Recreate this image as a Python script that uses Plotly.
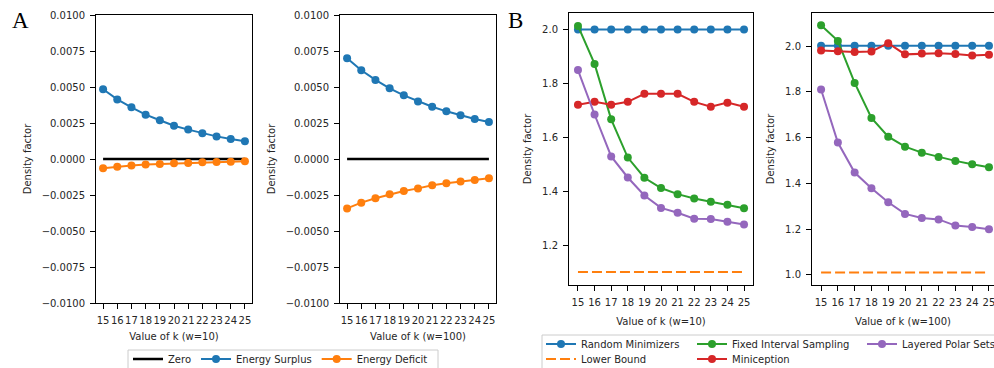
import plotly.graph_objects as go

W, H = 994, 368

k_values = [15, 16, 17, 18, 19, 20, 21, 22, 23, 24, 25]

# Panel A (energy surplus / deficit)
zero_line = [0, 0, 0, 0, 0, 0, 0, 0, 0, 0, 0]
surplus_w10 = [0.00484, 0.00414, 0.00359, 0.00308, 0.00269, 0.00231, 0.00204, 0.00178, 0.00157, 0.00139, 0.00123]
deficit_w10 = [-0.00065, -0.00053, -0.00046, -0.00039, -0.00035, -0.00030, -0.00028, -0.00023, -0.00021, -0.00019, -0.00016]
surplus_w100 = [0.00699, 0.00616, 0.00549, 0.00491, 0.00442, 0.00400, 0.00363, 0.00331, 0.00303, 0.00278, 0.00257]
deficit_w100 = [-0.00343, -0.00303, -0.00273, -0.00245, -0.00222, -0.00204, -0.00183, -0.00169, -0.00157, -0.00146, -0.00134]

# Panel B (density factors)
random_min_w10 = [2.001, 2.001, 2.001, 2.001, 2.001, 2.001, 2.001, 2.001, 2.001, 2.001, 2.001]
lower_bound_w10 = [1.1, 1.1, 1.1, 1.1, 1.1, 1.1, 1.1, 1.1, 1.1, 1.1, 1.1]
fis_w10 = [2.014, 1.873, 1.667, 1.525, 1.450, 1.412, 1.389, 1.373, 1.361, 1.350, 1.337]
miniception_w10 = [1.721, 1.732, 1.721, 1.732, 1.762, 1.762, 1.762, 1.732, 1.714, 1.729, 1.714]
lps_w10 = [1.850, 1.685, 1.529, 1.451, 1.384, 1.338, 1.320, 1.298, 1.297, 1.287, 1.276]

random_min_w100 = [2.002, 2.002, 2.002, 2.002, 2.002, 2.002, 2.002, 2.002, 2.002, 2.002, 2.002]
lower_bound_w100 = [1.01, 1.01, 1.01, 1.01, 1.01, 1.01, 1.01, 1.01, 1.01, 1.01, 1.01]
fis_w100 = [2.091, 2.023, 1.839, 1.686, 1.604, 1.560, 1.534, 1.515, 1.498, 1.483, 1.470]
miniception_w100 = [1.981, 1.978, 1.974, 1.977, 2.013, 1.964, 1.968, 1.969, 1.966, 1.959, 1.962]
lps_w100 = [1.810, 1.578, 1.447, 1.378, 1.317, 1.266, 1.248, 1.242, 1.215, 1.209, 1.199]

a_ticks = [-0.01, -0.0075, -0.005, -0.0025, 0.0, 0.0025, 0.005, 0.0075, 0.01]
b1_ticks = [1.2, 1.4, 1.6, 1.8, 2.0]
b2_ticks = [1.0, 1.2, 1.4, 1.6, 1.8, 2.0]

BLUE, ORANGE, GREEN, RED, PURPLE = "#1f77b4", "#ff7f0e", "#2ca02c", "#d62728", "#9467bd"
FONT = "DejaVu Sans"
TXT = "#262626"


def px_x(p):
    return p / W


def px_y(p):
    return 1 - p / H


fig = go.Figure()

def line_trace(y, color, name, xa, ya, legend, show, markers=True, dash=None, width=2):
    return go.Scatter(
        x=k_values, y=y, name=name, mode="lines+markers" if markers else "lines",
        line=dict(color=color, width=width, dash=dash),
        marker=dict(color=color, size=8),
        xaxis=xa, yaxis=ya, legend=legend, showlegend=show,
    )

# Panel A
for xa, ya, sp, df, show in [("x", "y", surplus_w10, deficit_w10, True),
                              ("x2", "y2", surplus_w100, deficit_w100, False)]:
    fig.add_trace(line_trace(zero_line, "black", "Zero", xa, ya, "legend", show, markers=False, width=2.5))
    fig.add_trace(line_trace(sp, BLUE, "Energy Surplus", xa, ya, "legend", show))
    fig.add_trace(line_trace(df, ORANGE, "Energy Deficit", xa, ya, "legend", show))

# Panel B
for xa, ya, rm, lb, fis, mc, lps, show in [
        ("x3", "y3", random_min_w10, lower_bound_w10, fis_w10, miniception_w10, lps_w10, True),
        ("x4", "y4", random_min_w100, lower_bound_w100, fis_w100, miniception_w100, lps_w100, False)]:
    fig.add_trace(line_trace(rm, BLUE, "Random Minimizers", xa, ya, "legend2", show))
    fig.add_trace(line_trace(lb, ORANGE, "Lower Bound", xa, ya, "legend5", show, markers=False, dash="10px,4px"))
    fig.add_trace(line_trace(fis, GREEN, "Fixed Interval Sampling", xa, ya, "legend3", show))
    fig.add_trace(line_trace(mc, RED, "Miniception", xa, ya, "legend6", show))
    fig.add_trace(line_trace(lps, PURPLE, "Layered Polar Sets", xa, ya, "legend4", show))

common_ax = dict(showline=True, mirror=True, linecolor="black", linewidth=1,
                 ticks="outside", ticklen=5, tickcolor="black", tickwidth=1,
                 showgrid=False, zeroline=False, automargin=False,
                 ticklabelstandoff=3,
                 tickfont=dict(size=10, color=TXT, family=FONT))

def xaxis(domain, rng, title, anchor, standoff):
    return dict(common_ax, domain=domain, range=rng, anchor=anchor, tickmode="array",
                tickvals=k_values, ticktext=[str(v) for v in k_values], tickangle=0,
                ticklabeloverflow="allow",
                title=dict(text=title, font=dict(size=10, color=TXT, family=FONT), standoff=standoff))

def yaxis(domain, rng, ticks, fmt, anchor):
    return dict(common_ax, domain=domain, range=rng, anchor=anchor, tickmode="array",
                tickvals=ticks, tickformat=fmt,
                title=dict(text="Density factor", font=dict(size=10, color=TXT, family=FONT), standoff=8))

ya_dom = [px_y(303), px_y(15)]
yb_dom = [px_y(285), px_y(13)]

legend_font = dict(size=10, color=TXT, family=FONT)

def single_legend(x_px, top_px):
    return dict(orientation="v", x=px_x(x_px), y=px_y(top_px), xanchor="left", yanchor="top",
                bgcolor="rgba(0,0,0,0)", font=legend_font, itemwidth=30)

fig.update_layout(
    width=W, height=H, margin=dict(l=0, r=0, t=0, b=0, autoexpand=False),
    paper_bgcolor="white", plot_bgcolor="white",
    font=dict(family=FONT, color=TXT, size=10),
    xaxis=xaxis([px_x(96), px_x(252)], [14.5, 25.5], "Value of k (w=10)", "y", 7),
    xaxis2=xaxis([px_x(340), px_x(496)], [14.5, 25.5], "Value of k (w=100)", "y2", 7),
    xaxis3=xaxis([px_x(569), px_x(753)], [14.46, 25.54], "Value of k (w=10)", "y3", 10),
    xaxis4=xaxis([px_x(812), 1.0], [14.46, 25.30], "Value of k (w=100)", "y4", 10),
    yaxis=yaxis(ya_dom, [-0.01, 0.01], a_ticks, ".4f", "x"),
    yaxis2=yaxis(ya_dom, [-0.01, 0.01], a_ticks, ".4f", "x2"),
    yaxis3=yaxis(yb_dom, [1.0516, 2.062], b1_ticks, ".1f", "x3"),
    yaxis4=yaxis(yb_dom, [0.955, 2.145], b2_ticks, ".1f", "x4"),
    legend=dict(orientation="h", x=px_x(128), y=px_y(344.5), xanchor="left", yanchor="top",
                bgcolor="rgba(0,0,0,0)", font=legend_font, itemwidth=30),
    legend2=single_legend(541, 329.5),
    legend5=single_legend(541, 344.5),
    legend3=single_legend(692, 329.5),
    legend6=single_legend(692, 344.5),
    legend4=single_legend(862, 329.5),
    shapes=[
        dict(type="rect", xref="paper", yref="paper", x0=px_x(128), x1=px_x(438),
             y0=px_y(380), y1=px_y(350), line=dict(color="#cccccc", width=1), layer="below"),
        dict(type="rect", xref="paper", yref="paper", x0=px_x(542), x1=px_x(1010),
             y0=px_y(380), y1=px_y(335), line=dict(color="#cccccc", width=1), layer="below"),
    ],
    annotations=[
        dict(text="A", x=px_x(10), y=px_y(21), xref="paper", yref="paper", xanchor="left",
             yanchor="middle", showarrow=False, font=dict(family="Liberation Serif", size=23, color="black")),
        dict(text="B", x=px_x(506), y=px_y(21), xref="paper", yref="paper", xanchor="left",
             yanchor="middle", showarrow=False, font=dict(family="Liberation Serif", size=23, color="black")),
    ],
)

fig.write_html("out.html")
